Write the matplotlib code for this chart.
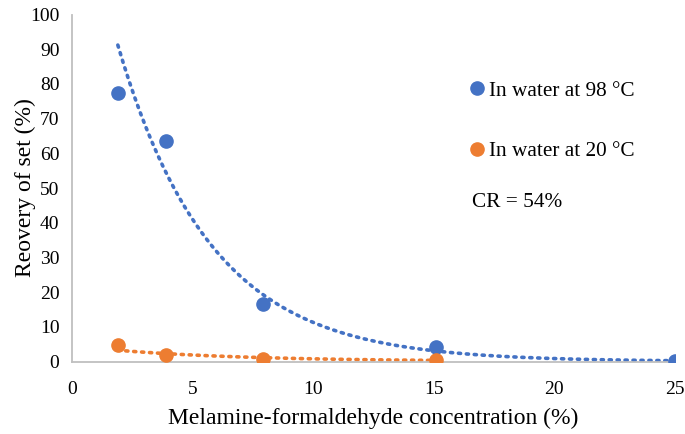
import numpy as np
import matplotlib
matplotlib.use("Agg")
import matplotlib.pyplot as plt

plt.rcParams['font.family'] = ['Liberation Serif', 'DejaVu Serif']

conc = [1.9, 3.9, 7.9, 15.1, 25.0]
hot_recovery = [77.5, 63.5, 16.5, 4.2, 0.2]
conc_cold = [1.9, 3.9, 7.9, 15.1]
cold_recovery = [4.9, 1.9, 0.7, 0.4]
labels = ["In water at 98 °C", "In water at 20 °C"]
note = "CR = 54%"
xticks = [0, 5, 10, 15, 20, 25]
yticks = [0, 10, 20, 30, 40, 50, 60, 70, 80, 90, 100]

blue = "#4472C4"
orange = "#ED7D31"

fig = plt.figure(figsize=(6.85, 4.34), dpi=100)
ax = fig.add_axes([0.1051, 0.167, 0.8803, 0.7995])


def exp_fit(x, y):
    x = np.asarray(x, float)
    y = np.asarray(y, float)
    b, lna = np.polyfit(x, np.log(y), 1)
    return np.exp(lna), b


for xs, ys, c in [(conc, hot_recovery, blue), (conc_cold, cold_recovery, orange)]:
    a, b = exp_fit(xs, ys)
    xx = np.linspace(min(xs), max(xs), 300)
    ax.plot(xx, a * np.exp(b * xx), linestyle=(0, (0.6, 1.6)), color=c,
            linewidth=2.6, dash_capstyle='round', zorder=2)

h1, = ax.plot(conc, hot_recovery, 'o', color=blue, markersize=9.5, zorder=3,
              label=labels[0])
h2, = ax.plot(conc_cold, cold_recovery, 'o', color=orange, markersize=9.5, zorder=3,
              label=labels[1])

ax.set_xlim(0, 25)
ax.set_ylim(0, 100)
ax.set_xticks(xticks)
ax.set_yticks(yticks)
ax.tick_params(length=0, labelsize=14)
ax.tick_params(axis='x', pad=14)
ax.tick_params(axis='y', pad=9)
for s in ['top', 'right']:
    ax.spines[s].set_visible(False)
for s in ['left', 'bottom']:
    ax.spines[s].set_color('#BFBFBF')
    ax.spines[s].set_linewidth(1.3)

ax.set_xlabel("Melamine-formaldehyde concentration (%)", fontsize=17, labelpad=7)
ax.set_ylabel("Reovery of set (%)", fontsize=17, labelpad=-4)

leg = ax.legend(handles=[h1, h2], loc='center left', bbox_to_anchor=(0.6605, 0.6935),
                frameon=False, fontsize=15.3, labelspacing=1.9, handlelength=0.6,
                handletextpad=0.3, markerscale=1.0, borderaxespad=0, borderpad=0)
ax.text(0.663, 0.457, note, transform=ax.transAxes, fontsize=15.3,
        ha='left', va='center')

fig.savefig("out.png", dpi=100)
